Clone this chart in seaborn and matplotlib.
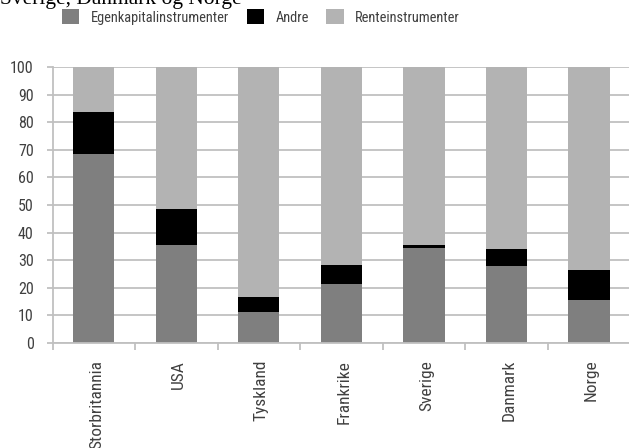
import matplotlib
matplotlib.use("Agg")
import matplotlib.pyplot as plt
from matplotlib.patches import Patch
from matplotlib.ticker import FixedLocator
from matplotlib.transforms import ScaledTranslation
import seaborn as sns
import pandas as pd
import numpy as np

categories = ["Storbritannia", "USA", "Tyskland", "Frankrike", "Sverige", "Danmark", "Norge"]
egenkapital = [68.6, 35.6, 11.4, 21.5, 34.5, 27.8, 15.6]
andre = [15.1, 12.8, 5.1, 6.8, 1.0, 6.3, 10.8]
rente = [100 - e - a for e, a in zip(egenkapital, andre)]
series_names = ["Egenkapitalinstrumenter", "Andre", "Renteinstrumenter"]
colors = ["#7f7f7f", "#000000", "#b3b3b3"]
yticks = list(range(0, 101, 10))

sns.set_theme(style="white")
plt.rcParams["font.family"] = ["Roboto Condensed", "Roboto", "DejaVu Sans"]

df = pd.DataFrame({
    "land": categories,
    "egen": egenkapital,
    "andre": andre,
    "rente": rente,
})
df["cum_andre"] = df["egen"] + df["andre"]
df["cum_total"] = df["cum_andre"] + df["rente"]

fig = plt.figure(figsize=(6.29, 4.48), dpi=100)
ax = fig.add_axes([52.5 / 629, 1 - 343 / 448, 1 - 52.5 / 629 + 0.002, (343 - 67) / 448])

grid_col = "#c0c0c0"
for y in yticks:
    ax.axhline(y, color=grid_col, lw=1.3, zorder=0)

sns.barplot(data=df, x="land", y="cum_total", color=colors[2], width=0.5,
            saturation=1, ax=ax, zorder=2, linewidth=0)
sns.barplot(data=df, x="land", y="cum_andre", color=colors[1], width=0.5,
            saturation=1, ax=ax, zorder=3, linewidth=0)
sns.barplot(data=df, x="land", y="egen", color=colors[0], width=0.5,
            saturation=1, ax=ax, zorder=4, linewidth=0)

ax.set_xlim(-0.5, 6.5)
ax.set_ylim(0, 100)
ax.set_xlabel("")
ax.set_ylabel("")
for s in ["top", "right"]:
    ax.spines[s].set_visible(False)
for s in ["bottom", "left"]:
    ax.spines[s].set_color(grid_col)
    ax.spines[s].set_linewidth(1.3)
    ax.spines[s].set_zorder(5)

ax.set_yticks(yticks)
ax.set_yticklabels([str(v) for v in yticks], fontsize=11.5, color="#404040")
ax.tick_params(axis="y", which="major", length=4.5, width=1.3, color=grid_col,
               direction="out", left=True, pad=9)

ax.set_xticks(range(len(categories)))
ax.set_xticklabels(categories, rotation=90, fontsize=12.5, color="#404040")
ax.tick_params(axis="x", which="major", length=0, pad=12)
shift = ScaledTranslation(2.5 / 100, 0, fig.dpi_scale_trans)
for lab in ax.get_xticklabels():
    lab.set_transform(lab.get_transform() + shift)
ax.xaxis.set_minor_locator(FixedLocator(np.arange(-0.5, 7.0, 1.0)))
ax.tick_params(axis="x", which="minor", length=5, width=1.3, color=grid_col,
               direction="out", bottom=True)

handles = [Patch(facecolor=c, edgecolor="none") for c in colors]
fig.legend(handles, series_names, loc="center", ncol=3, frameon=False,
           bbox_to_anchor=(261 / 629, 1 - 17 / 448), fontsize=10.4,
           handlelength=1.2, handleheight=1.2, handletextpad=0.8,
           columnspacing=1.2, labelcolor="#404040")

fig.text(0.0, 1 - 4 / 448, "Sverige, Danmark og Norge", family=["Liberation Serif"],
         fontsize=15.5, color="black", ha="left", va="baseline")

fig.savefig("out.png", dpi=100)
